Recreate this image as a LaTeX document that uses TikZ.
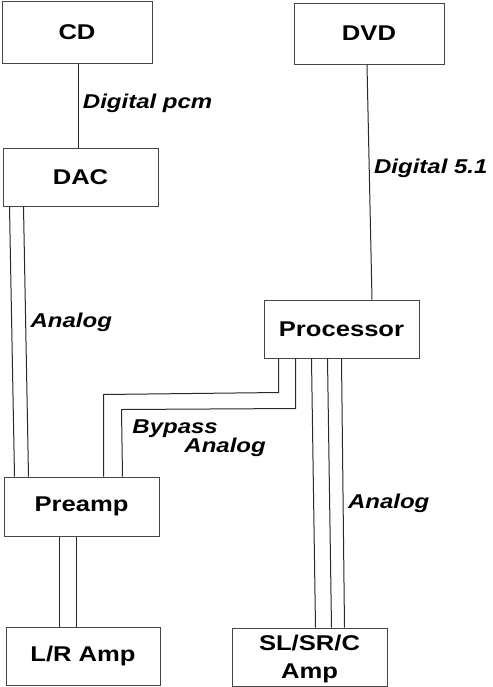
\documentclass[tikz,border=0pt]{standalone}
\usepackage{fontspec}
\setmainfont[FakeStretch=1.2]{Liberation Sans}
\usetikzlibrary{calc}

\tikzset{every picture/.style={line width=0.75pt}}
\tikzset{
	devbox/.style={draw={rgb, 255:red, 70; green, 70; blue, 70 }, inner sep=0pt, align=center,
		font=\bfseries\fontsize{16}{21}\selectfont},
	sig/.style={font=\bfseries\itshape\fontsize{15}{14.3}\selectfont, align=left},
	wire/.style={draw={rgb, 255:red, 40; green, 40; blue, 40 }}}

\begin{document}
\begin{tikzpicture}[x=0.75pt,y=0.75pt,yscale=-1,xscale=1]
	\useasboundingbox (0,0) rectangle (493,687);

	%Shape: Rectangle [id:cd] 
	\node[devbox, minimum width=112.5pt, minimum height=46.5pt] (cd) at (77,32) {CD};
	%Shape: Rectangle [id:dac] 
	\node[devbox, minimum width=116.25pt, minimum height=43.5pt] (dac) at (80.5,177) {DAC};
	%Shape: Rectangle [id:dvd] 
	\node[devbox, minimum width=112.5pt, minimum height=45.75pt] (dvd) at (369,33.5) {DVD};
	%Shape: Rectangle [id:proc] 
	\node[devbox, minimum width=116.25pt, minimum height=43.5pt] (proc) at (341.5,329) {Processor};
	%Shape: Rectangle [id:preamp] 
	\node[devbox, minimum width=116.25pt, minimum height=44.25pt] (preamp) at (81.5,506.5) {Preamp};
	%Shape: Rectangle [id:lramp] 
	\node[devbox, minimum width=115.5pt, minimum height=43.5pt] (lramp) at (83,656) {L/R Amp};
	%Shape: Rectangle [id:slamp] 
	\node[devbox, minimum width=116.25pt, minimum height=43.5pt, text depth=-2pt] (slamp) at (309.5,657) {SL/SR/C\\Amp};

	%Straight Lines [id:cd-dac] 
	\draw[wire] ($(cd.south)+(1,0)$) -- ($(dac.north)+(-2.5,0)$) node[sig, right, pos=.47] {Digital pcm};
	%Straight Lines [id:dvd-proc] 
	\draw[wire] ($(dvd.south)+(-2,0)$) -- ($(proc.north)+(30.5,0)$) node[sig, right, pos=.44] {Digital 5.1};

	%Straight Lines [id:dac-preamp] 
	\draw[wire] ($(dac.south west)+(7,0)$) -- ($(preamp.north west)+(11,0)$);
	\draw[wire] ($(dac.south west)+(21,0)$) -- ($(preamp.north west)+(25,0)$) node[sig, right, pos=.43] {Analog};

	%Straight Lines [id:bypass] 
	\draw[wire] ($(proc.south west)+(15,0)$) -- ++(0,34) -- ($(preamp.north west)+(100,-82)$) -- ($(preamp.north west)+(100,0)$);
	\draw[wire] ($(proc.south west)+(32,0)$) -- ++(0,50) -- ($(preamp.north west)+(118,-67)$)
		node[sig, anchor=north west, xshift=4.5pt, yshift=-4pt] {Bypass\\\hspace*{39pt}Analog}
		-- ($(preamp.north west)+(119,0)$);

	%Straight Lines [id:proc-slamp] 
	\foreach \a/\b in {48/84, 64/100}
		\draw[wire] ($(proc.south west)+(\a,0)$) -- ($(slamp.north west)+(\b,0)$);
	\draw[wire] ($(proc.south west)+(78,0)$) -- ($(slamp.north west)+(113,0)$) node[sig, right, pos=.54] {Analog};

	%Straight Lines [id:preamp-lramp] 
	\foreach \a/\b in {56/54, 73/71}
		\draw[wire] ($(preamp.south west)+(\a,0)$) -- ($(lramp.north west)+(\b,0)$);

\end{tikzpicture}
\end{document}
